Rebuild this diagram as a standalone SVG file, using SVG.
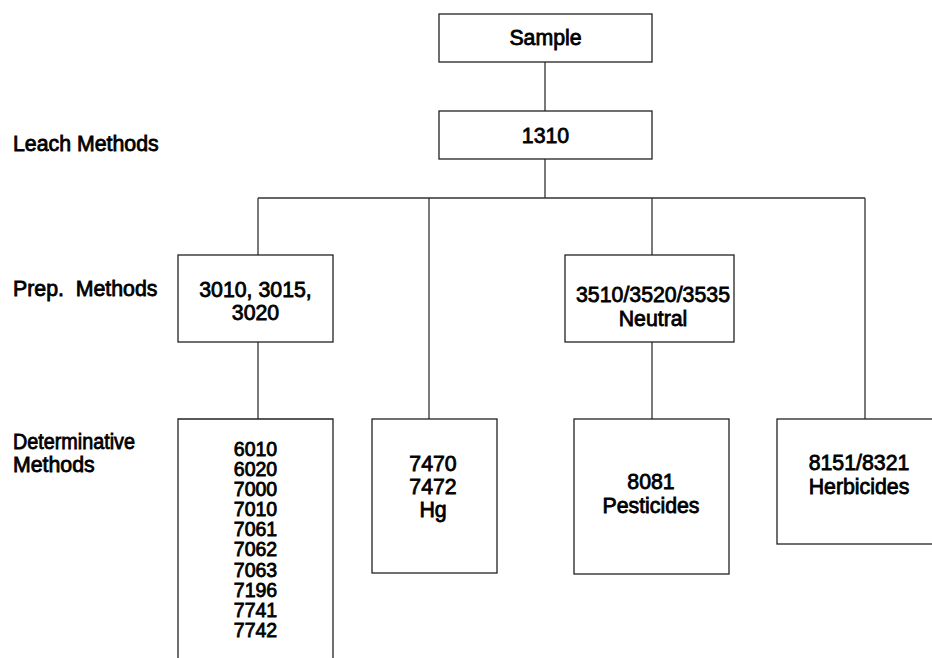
<svg xmlns="http://www.w3.org/2000/svg" width="932" height="658" viewBox="0 0 932 658">
<style>
.box{fill:#fff;stroke:#222;stroke-width:1.3}
.ln{fill:none;stroke:#333;stroke-width:1.3}
text{font-family:"Liberation Sans",Arial,sans-serif;font-size:21.3px;fill:#000;stroke:#000;stroke-width:0.8}
.c{text-anchor:middle}
.s{font-size:19.5px}
</style>
<rect width="932" height="658" fill="#fff"/>
<g id="connectors">
<path class="ln" d="M545 62V111M545 159V198M258 198H865M258 198V255M258 342V419M429 198V419M652 198V255M652 342V419M865 198V419"/>
</g>
<g id="labels">
<text x="13" y="151">Leach Methods</text>
<text x="13" y="296" xml:space="preserve">Prep.  Methods</text>
<text x="13" y="449" textLength="122" lengthAdjust="spacingAndGlyphs">Determinative</text>
<text x="13" y="472">Methods</text>
</g>
<g id="sample">
<rect class="box" x="439" y="14" width="213" height="48"/>
<text class="c" x="545.5" y="45">Sample</text>
</g>
<g id="n1310">
<rect class="box" x="439" y="111" width="213" height="48"/>
<text class="c" x="545.5" y="143">1310</text>
</g>
<g id="prep1">
<rect class="box" x="178" y="255" width="155" height="87"/>
<text class="c" x="255.5" y="297">3010, 3015,</text>
<text class="c" x="255.5" y="320">3020</text>
</g>
<g id="prep2">
<rect class="box" x="565" y="255" width="169" height="87"/>
<text class="c" x="653" y="302">3510/3520/3535</text>
<text class="c" x="653" y="326">Neutral</text>
</g>
<g id="det1">
<path class="box" d="M178 670V419H333V670"/>
<text class="c s" x="255.5" y="456">6010</text>
<text class="c s" x="255.5" y="476">6020</text>
<text class="c s" x="255.5" y="496">7000</text>
<text class="c s" x="255.5" y="516">7010</text>
<text class="c s" x="255.5" y="536">7061</text>
<text class="c s" x="255.5" y="556">7062</text>
<text class="c s" x="255.5" y="577">7063</text>
<text class="c s" x="255.5" y="597">7196</text>
<text class="c s" x="255.5" y="617">7741</text>
<text class="c s" x="255.5" y="637">7742</text>
</g>
<g id="hg">
<rect class="box" x="372" y="419" width="125" height="154"/>
<text class="c" x="433" y="471">7470</text>
<text class="c" x="433" y="494">7472</text>
<text class="c" x="433" y="517">Hg</text>
</g>
<g id="pest">
<rect class="box" x="574" y="419" width="155" height="155"/>
<text class="c" x="651" y="489">8081</text>
<text class="c" x="651" y="513">Pesticides</text>
</g>
<g id="herb">
<rect class="box" x="777" y="419" width="170" height="125"/>
<text class="c" x="859" y="470">8151/8321</text>
<text class="c" x="859" y="494">Herbicides</text>
</g>
</svg>
